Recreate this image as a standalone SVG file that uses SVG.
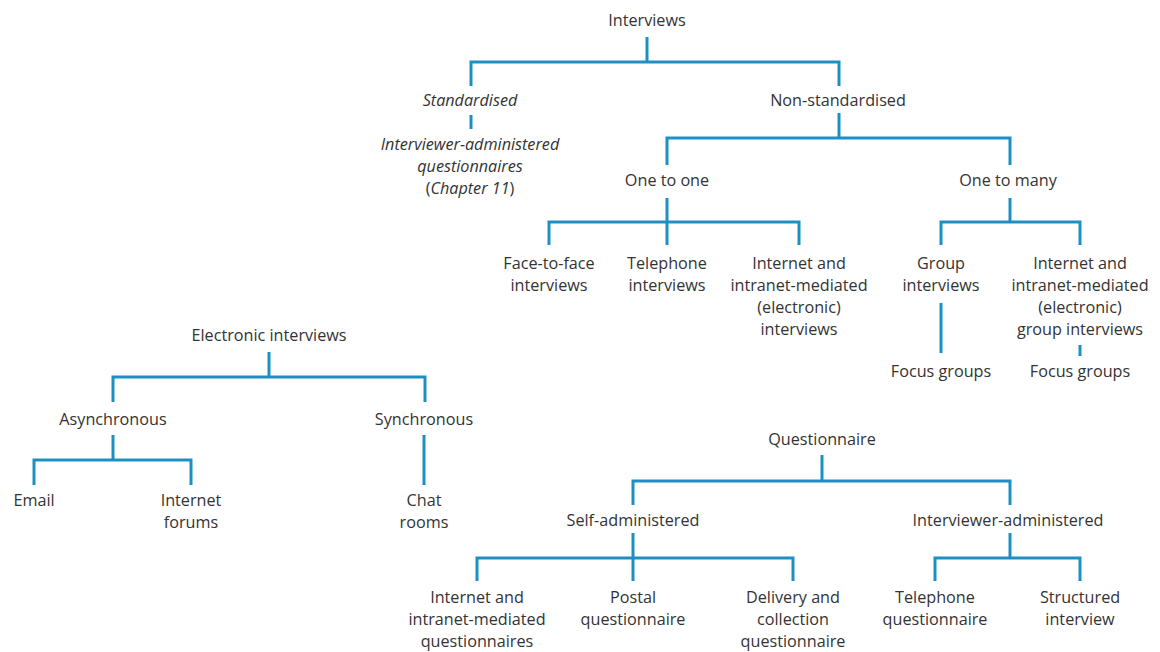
<svg xmlns="http://www.w3.org/2000/svg" width="1160" height="652" viewBox="0 0 1160 652">
  <style>
    .lbl { font-family: "Open Sans", "Noto Sans", "DejaVu Sans", sans-serif; font-size: 16.2px; fill: #333; text-anchor: middle; }
    .it { font-style: italic; }
    .up { font-style: normal; }
    .wire { fill: none; stroke: #1d8fc2; stroke-width: 3; }
  </style>
  <rect width="1160" height="652" fill="#ffffff"/>

  <!-- connectors -->
  <g id="connectors" class="wire">
    <!-- Interviews -->
    <path d="M647 37V62M471 86V62H839V86"/>
    <path d="M471 115V129"/>
    <path d="M839 113V138M667 165V138H1010V165"/>
    <path d="M667 198V245M549 245V222H799V245"/>
    <path d="M1010 198V222M941 245V222H1080V245"/>
    <path d="M941 303V353"/>
    <path d="M1080 345V356"/>
    <!-- Electronic interviews -->
    <path d="M269 352V377M113 402V377H425V402"/>
    <path d="M113 435V460M34 485V460H191V485"/>
    <path d="M424 435V485"/>
    <!-- Questionnaire -->
    <path d="M822 455V481M633 505V481H1010V505"/>
    <path d="M633 533V581M477 581V558H793V581"/>
    <path d="M1010 533V558M935 581V558H1080V581"/>
  </g>

  <!-- Interviews tree -->
  <g id="interviews"><text class="lbl" x="647" y="26">Interviews</text></g>
  <g id="standardised"><text class="lbl it" x="470" y="106">Standardised</text></g>
  <g id="interviewer-administered-questionnaires">
    <text class="lbl it" x="470" y="150">Interviewer-administered</text>
    <text class="lbl it" x="470" y="172">questionnaires</text>
    <text class="lbl" x="470" y="194"><tspan class="up">(</tspan><tspan class="it">Chapter 11</tspan><tspan class="up">)</tspan></text>
  </g>
  <g id="non-standardised"><text class="lbl" x="838" y="106">Non-standardised</text></g>
  <g id="one-to-one"><text class="lbl" x="667" y="186">One to one</text></g>
  <g id="one-to-many"><text class="lbl" x="1008" y="186">One to many</text></g>
  <g id="face-to-face">
    <text class="lbl" x="549" y="269">Face-to-face</text>
    <text class="lbl" x="549" y="291">interviews</text>
  </g>
  <g id="telephone-interviews">
    <text class="lbl" x="667" y="269">Telephone</text>
    <text class="lbl" x="667" y="291">interviews</text>
  </g>
  <g id="electronic-one-to-one">
    <text class="lbl" x="799" y="269">Internet and</text>
    <text class="lbl" x="799" y="291">intranet-mediated</text>
    <text class="lbl" x="799" y="313">(electronic)</text>
    <text class="lbl" x="799" y="335">interviews</text>
  </g>
  <g id="group-interviews">
    <text class="lbl" x="941" y="269">Group</text>
    <text class="lbl" x="941" y="291">interviews</text>
  </g>
  <g id="electronic-group">
    <text class="lbl" x="1080" y="269">Internet and</text>
    <text class="lbl" x="1080" y="291">intranet-mediated</text>
    <text class="lbl" x="1080" y="313">(electronic)</text>
    <text class="lbl" x="1080" y="335">group interviews</text>
  </g>
  <g id="focus-groups-1"><text class="lbl" x="941" y="377">Focus groups</text></g>
  <g id="focus-groups-2"><text class="lbl" x="1080" y="377">Focus groups</text></g>

  <!-- Electronic interviews tree -->
  <g id="electronic-interviews"><text class="lbl" x="269" y="341">Electronic interviews</text></g>
  <g id="asynchronous"><text class="lbl" x="113" y="425">Asynchronous</text></g>
  <g id="synchronous"><text class="lbl" x="424" y="425">Synchronous</text></g>
  <g id="email"><text class="lbl" x="34" y="506">Email</text></g>
  <g id="internet-forums">
    <text class="lbl" x="191" y="506">Internet</text>
    <text class="lbl" x="191" y="528">forums</text>
  </g>
  <g id="chat-rooms">
    <text class="lbl" x="424" y="506">Chat</text>
    <text class="lbl" x="424" y="528">rooms</text>
  </g>

  <!-- Questionnaire tree -->
  <g id="questionnaire"><text class="lbl" x="822" y="445">Questionnaire</text></g>
  <g id="self-administered"><text class="lbl" x="633" y="526">Self-administered</text></g>
  <g id="interviewer-administered"><text class="lbl" x="1008" y="526">Interviewer-administered</text></g>
  <g id="internet-questionnaires">
    <text class="lbl" x="477" y="603">Internet and</text>
    <text class="lbl" x="477" y="625">intranet-mediated</text>
    <text class="lbl" x="477" y="647">questionnaires</text>
  </g>
  <g id="postal-questionnaire">
    <text class="lbl" x="633" y="603">Postal</text>
    <text class="lbl" x="633" y="625">questionnaire</text>
  </g>
  <g id="delivery-collection">
    <text class="lbl" x="793" y="603">Delivery and</text>
    <text class="lbl" x="793" y="625">collection</text>
    <text class="lbl" x="793" y="647">questionnaire</text>
  </g>
  <g id="telephone-questionnaire">
    <text class="lbl" x="935" y="603">Telephone</text>
    <text class="lbl" x="935" y="625">questionnaire</text>
  </g>
  <g id="structured-interview">
    <text class="lbl" x="1080" y="603">Structured</text>
    <text class="lbl" x="1080" y="625">interview</text>
  </g>
</svg>
